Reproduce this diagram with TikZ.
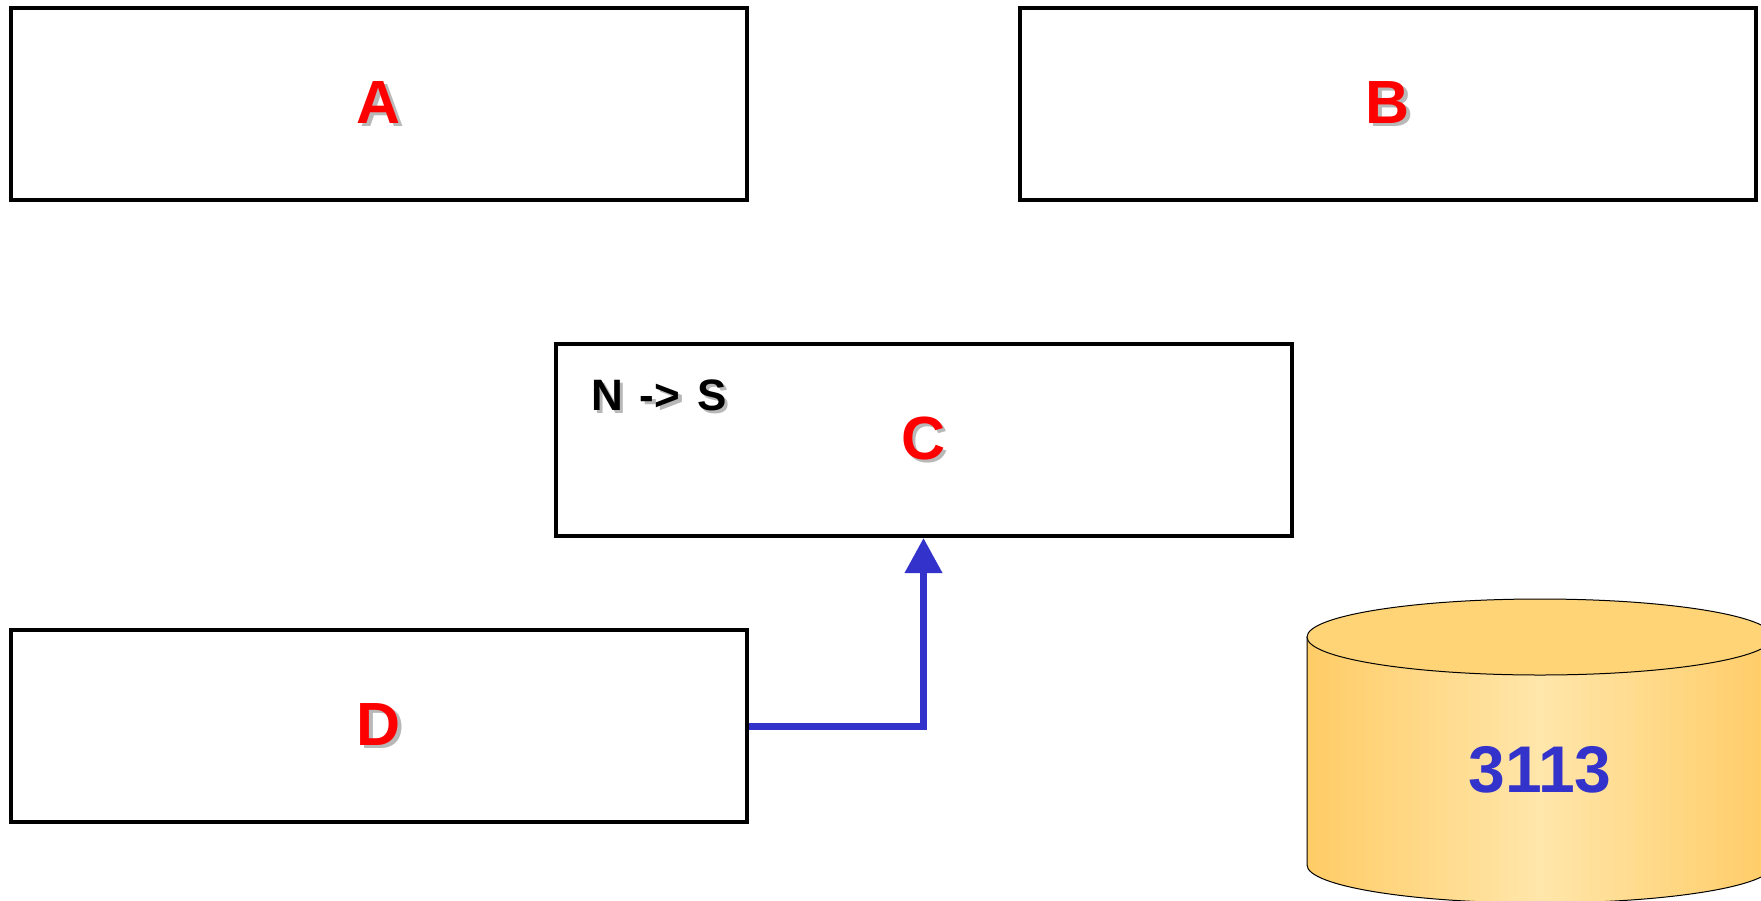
\documentclass[tikz,border=0pt]{standalone}
\usepackage{fontspec}
\setmainfont{Liberation Sans}
\usetikzlibrary{arrows.meta}
\definecolor{lblred}{HTML}{FF0000}
\definecolor{arrblue}{HTML}{3333CC}
\definecolor{shgray}{HTML}{B8B8B8}
\definecolor{cylside}{HTML}{FFCC66}
\definecolor{cyllight}{HTML}{FFE6AA}
\definecolor{cyltop}{HTML}{FFD477}
\newcommand\shtxt[2]{\makebox[0pt][l]{\kern3.5pt\raisebox{-3.5pt}{\textcolor{shgray}{#2}}}\textcolor{#1}{#2}}
\tikzset{
  blk/.style={draw=black, line width=4pt, rectangle, minimum width=736pt, minimum height=192pt, inner sep=0pt, fill=white},
  biglbl/.style={font=\fontsize{61}{65}\selectfont\bfseries},
  smalllbl/.style={font=\fontsize{44}{48}\selectfont\bfseries, inner sep=0pt, anchor=west},
  conn/.style={draw=arrblue, line width=7pt, -{Triangle[length=35pt,width=36pt]}},
  cyllbl/.style={font=\fontsize{66}{70}\selectfont\bfseries, text=arrblue}
}
\begin{document}
\begin{tikzpicture}[x=1pt,y=-1pt]
\useasboundingbox (0,0) rectangle (1761,900);
\fill[white] (0,0) rectangle (1761,900);
\node[blk, biglbl] (A) at (379,104) {\shtxt{lblred}{A}};
\node[blk, biglbl] (B) at (1388,104) {\shtxt{lblred}{B}};
\node[blk, biglbl] (C) at (923.5,440) {\shtxt{lblred}{C}};
\node[blk, biglbl] (D) at (379,726) {\shtxt{lblred}{D}};
\node[smalllbl] (ns) at (591,397) {\shtxt{black}{N\hspace{17pt}->\hspace{17pt}S}};
\draw[conn] (D.east) -| (C.south);
\begin{scope}
\clip (0,0) rectangle (1761,900);
\path[left color=cylside, right color=cylside, middle color=cyllight]
  (1307,637) -- (1307,865) arc[start angle=180, end angle=360, x radius=233pt, y radius=38pt] -- (1773,637) -- cycle;
\draw[line width=1pt, black] (1307,637) -- (1307,865) arc[start angle=180, end angle=360, x radius=233pt, y radius=38pt] -- (1773,637);
\draw[line width=1pt, black, fill=cyltop] (1540,637) ellipse[x radius=233pt, y radius=38pt];
\end{scope}
\node[cyllbl] (db) at (1540,770) {3113};
\end{tikzpicture}
\end{document}
